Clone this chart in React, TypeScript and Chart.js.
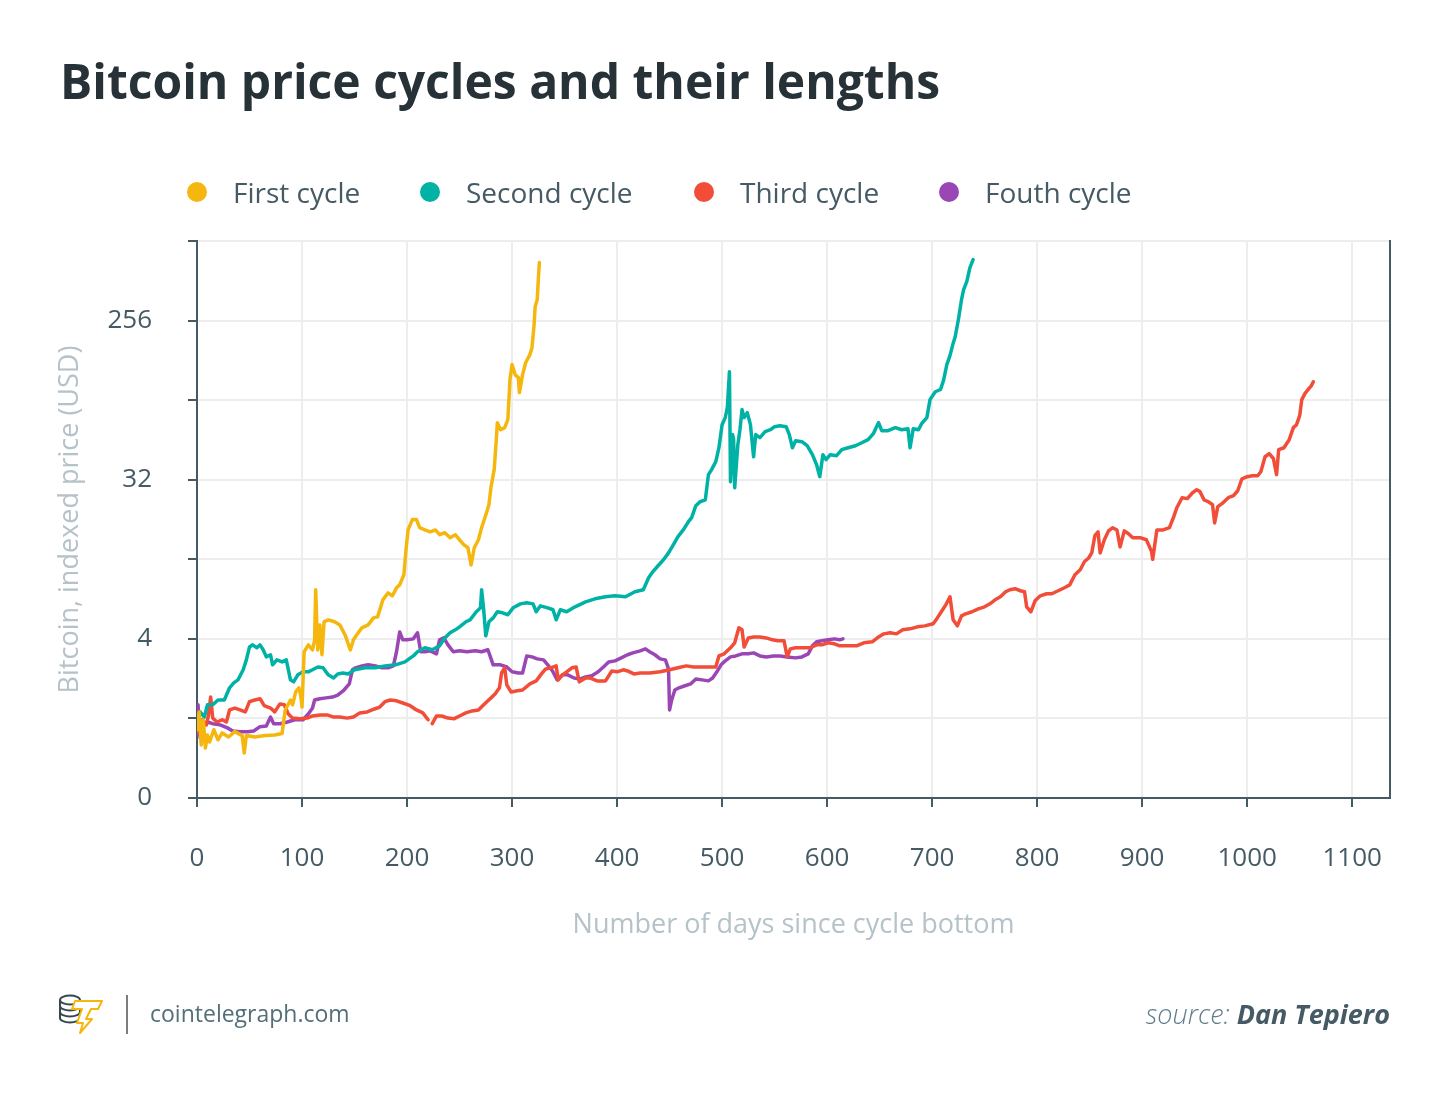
import React, { useEffect, useRef } from "react";
import { Chart, registerables } from "chart.js";

Chart.register(...registerables);

const FONT = "'Open Sans', 'Noto Sans', sans-serif";

const titleText = "Bitcoin price cycles and their lengths";
const seriesNames = ["First cycle", "Second cycle", "Third cycle", "Fouth cycle"];
const seriesColors = ["#f5b70e", "#00b2a5", "#f14d38", "#9b46b5"];
const xAxisTitle = "Number of days since cycle bottom";
const yAxisTitle = "Bitcoin, indexed price (USD)";
const sourceLabel = "source:";
const sourceName = "Dan Tepiero";
const siteName = "cointelegraph.com";

const xTickValues = [0, 100, 200, 300, 400, 500, 600, 700, 800, 900, 1000, 1100];
const xTickLabels = ["0", "100", "200", "300", "400", "500", "600", "700", "800", "900", "1000", "1100"];
const xMax = 1136;
const yTickValues = [0.5, 1.414, 4, 11.31, 32, 90.51, 256, 724.1];
const yTickLabels = ["0", "", "4", "", "32", "", "256", ""];

const firstDays = [0,2,4,6,8,10,12,16,20,24,30,36,43,45,47,55,65,74,81,84,89,91,94,97,99,100,102,106,110,112,113,115,117,119,121,125,131,136,141,146,149,152,157,163,168,172,177,182,186,190,193,197,199,201,205,209,212,217,222,227,231,236,241,246,250,254,258,261,264,268,271,275,278,280,283,285,286,289,293,296,298,300,303,306,307,310,313,317,319,321,322,324,325,326];
const firstValues = [1.22,1.54,1.0,1.39,0.96,1.14,1.04,1.22,1.07,1.17,1.11,1.19,1.13,0.9,1.13,1.11,1.13,1.14,1.16,1.58,1.8,1.69,2.0,2.11,1.87,1.64,3.37,3.7,3.46,3.95,7.6,3.46,4.8,3.25,5.0,5.13,5.0,4.8,4.21,3.46,3.95,4.21,4.62,4.8,5.26,5.33,6.66,7.3,7.02,7.79,8.1,9.24,12.8,16.6,19.0,19.0,17.1,16.6,16.2,16.6,15.6,16.0,15.0,15.6,14.6,13.7,13.15,10.5,13.15,14.6,17.1,20.2,23.1,29.2,36.5,54,67.4,61.5,63.2,70.1,118,144,126,121.5,99.9,126,148,164,180,243,307,337,438,546];

const secondDays = [0,3,7,10,15,20,26,31,35,39,44,47,50,53,57,60,63,66,70,72,76,81,85,89,92,96,101,106,110,115,120,125,130,134,139,144,150,160,170,179,189,198,206,210,217,224,231,236,241,246,250,256,260,266,270,271,273,275,278,282,286,291,296,301,308,314,320,323,327,334,339,342,346,352,360,370,379,389,398,408,417,425,430,434,439,444,449,453,458,463,468,471,475,479,484,487,490,494,497,500,503,505,507,508,510,511,512,515,517,519,521,524,527,530,532,536,541,546,550,555,561,564,567,570,576,581,586,590,593,596,599,603,609,614,620,627,633,639,644,649,652,658,665,671,677,679,682,687,690,695,698,703,708,711,714,717,720,722,725,728,730,733,736,739];
const secondValues = [1.3,1.54,1.44,1.69,1.69,1.8,1.8,2.11,2.25,2.34,2.67,3.04,3.6,3.7,3.56,3.7,3.47,3.16,3.25,2.85,3.04,2.96,3.04,2.34,2.28,2.5,2.6,2.6,2.67,2.77,2.74,2.5,2.4,2.53,2.56,2.53,2.67,2.74,2.74,2.81,2.85,2.96,3.2,3.38,3.56,3.47,3.65,4.05,4.33,4.5,4.68,5.0,5.13,5.7,6.0,7.6,5.85,4.16,5.0,5.26,5.7,5.62,5.48,6.0,6.32,6.41,6.32,5.7,6.16,6.0,5.85,5.13,5.85,5.7,6.08,6.49,6.75,6.93,7.02,6.93,7.4,7.6,8.88,9.61,10.4,11.2,12.3,13.5,15.2,16.6,18.5,19.5,22.8,24.0,24.6,34.2,36.5,40.5,48.6,65.7,72,82,131,31.2,57.7,54,28.8,50.6,61.5,80,72,76.9,65.7,43.2,57.7,55.4,60,61.5,64,64.8,64,57.7,48.6,53.3,52.6,49.9,44.4,38.9,33.3,44.4,41.6,44.4,43.8,47.4,48.6,49.9,51.9,54,58.4,67.5,60.7,60.7,63.2,61.5,62.3,48.6,62.3,61.5,66.6,72,91.1,101,104,118,144,162,190,208,259,337,384,426,512,568];

const thirdDays = [0,2,5,9,11,13,15,19,24,28,31,36,41,46,50,55,60,64,70,74,79,83,87,91,98,105,110,117,124,130,136,143,149,155,162,169,174,179,184,190,196,203,209,215,220,222,224,228,233,239,245,250,256,262,268,272,276,280,284,288,290,293,295,299,305,310,317,323,328,332,337,342,344,348,352,357,361,364,370,374,381,389,395,400,406,410,416,422,431,441,450,458,466,473,481,489,494,497,502,508,512,516,519,521,525,530,536,542,548,553,559,562,565,570,577,584,590,595,601,607,612,620,628,635,643,649,654,660,666,672,679,686,693,701,705,710,713,717,720,724,728,732,738,744,750,755,760,765,770,774,779,784,788,790,794,798,803,809,814,820,826,831,836,841,845,849,852,855,858,860,864,868,872,876,879,883,887,891,898,904,909,910,914,920,926,930,933,938,943,948,952,955,959,963,967,969,972,976,982,987,991,995,1000,1005,1010,1013,1017,1021,1025,1028,1030,1035,1040,1044,1047,1050,1052,1055,1058,1061,1063];
const thirdValues = [1.3,1.17,1.39,1.3,1.48,1.87,1.42,1.35,1.39,1.35,1.58,1.62,1.58,1.54,1.76,1.8,1.83,1.67,1.62,1.54,1.71,1.69,1.5,1.42,1.41,1.42,1.46,1.48,1.48,1.44,1.44,1.42,1.44,1.52,1.54,1.6,1.64,1.76,1.8,1.78,1.73,1.67,1.58,1.52,1.39,null,1.32,1.46,1.46,1.42,1.41,1.46,1.52,1.56,1.58,1.67,1.76,1.85,1.95,2.11,2.56,2.74,2.19,2.0,2.03,2.05,2.22,2.31,2.53,2.7,2.74,2.81,2.34,2.5,2.6,2.74,2.77,2.28,2.4,2.4,2.31,2.31,2.63,2.6,2.67,2.63,2.53,2.56,2.56,2.6,2.67,2.74,2.81,2.77,2.77,2.77,2.77,3.2,3.29,3.56,3.8,4.62,4.5,3.6,4.05,4.1,4.1,4.05,3.95,3.9,3.9,3.16,3.51,3.56,3.56,3.56,3.7,3.7,3.8,3.75,3.65,3.65,3.65,3.8,3.85,4.1,4.27,4.33,4.27,4.5,4.56,4.68,4.74,4.87,5.26,5.85,6.24,6.93,5.13,4.74,5.4,5.55,5.7,5.92,6.08,6.32,6.66,6.93,7.4,7.6,7.7,7.5,7.4,6.08,5.7,6.58,7.02,7.21,7.21,7.5,7.8,8.1,9.24,9.86,10.95,11.5,12.3,15.4,16.2,12.3,14.6,16.4,17.1,16.6,13.3,16.4,15.8,15.0,15.0,14.6,12.5,11.3,16.6,16.6,17.1,19.7,22.2,25.3,25.0,27.0,28.1,27.4,24.6,24.0,23.1,18.2,22.5,23.4,25.3,26.0,27.7,32.4,33.3,33.7,33.7,35.5,43.2,45.0,42.1,34.2,47.4,48.6,54.0,63.2,65.7,73.9,91.1,98.6,104,109,115];

const fourthDays = [0,1,3,6,10,15,22,29,34,41,48,54,60,66,70,73,79,86,93,101,106,110,112,117,123,129,134,140,145,148,151,157,163,170,176,182,187,190,193,196,200,206,210,213,217,222,228,231,235,239,244,250,257,265,271,277,282,289,295,300,306,310,314,319,324,330,334,339,343,348,353,359,365,370,376,382,387,392,398,404,410,415,422,427,431,436,441,446,449,450,452,455,459,464,470,475,481,487,491,495,499,503,508,513,519,525,530,536,542,549,555,562,570,576,582,586,590,595,601,607,612,615];
const fourthValues = [1.14,1.69,1.1,1.28,1.35,1.32,1.3,1.25,1.2,1.19,1.19,1.2,1.27,1.28,1.44,1.32,1.32,1.35,1.39,1.39,1.5,1.62,1.8,1.83,1.85,1.87,1.92,2.05,2.22,2.67,2.74,2.81,2.85,2.81,2.74,2.74,2.81,3.38,4.38,3.95,3.95,4.0,4.33,3.38,3.38,3.42,3.29,3.95,4.05,3.7,3.38,3.42,3.38,3.42,3.38,3.47,2.85,2.85,2.77,2.6,2.56,2.56,3.2,3.16,3.08,3.04,2.85,2.6,2.34,2.5,2.5,2.4,2.37,2.43,2.47,2.6,2.77,2.96,3.0,3.12,3.25,3.33,3.42,3.51,3.38,3.25,3.08,3.04,2.7,1.58,1.8,2.05,2.11,2.16,2.22,2.37,2.34,2.31,2.4,2.6,2.85,3.0,3.16,3.2,3.29,3.29,3.33,3.2,3.16,3.2,3.2,3.16,3.12,3.16,3.29,3.65,3.85,3.9,3.95,4.0,3.95,4.0];

const seriesDays = [firstDays, secondDays, thirdDays, fourthDays];
const seriesValues = [firstValues, secondValues, thirdValues, fourthValues];

const AXIS = "#455a64";
const GRID = "#ededed";
const AXIS_TITLE = "#b5c2c8";

Chart.defaults.font.family = FONT;

export default function App() {
  const ref = useRef<HTMLCanvasElement>(null);

  useEffect(() => {
    if (!ref.current) return;
    const datasets = seriesNames.map((name, i) => ({
      label: name,
      data: seriesDays[i].map((d, j) => ({ x: d, y: seriesValues[i][j] })),
      borderColor: seriesColors[i],
      backgroundColor: seriesColors[i],
      borderWidth: 3.5,
      pointRadius: 0,
      pointHoverRadius: 0,
      fill: false,
      tension: 0,
      spanGaps: false,
      borderJoinStyle: "round" as const,
      borderCapStyle: "round" as const,
    }));
    const chart = new Chart(ref.current, {
      type: "line",
      data: { datasets },
      options: {
        responsive: false,
        animation: false,
        layout: { padding: { top: 241, left: 0, right: 0, bottom: 0 } },
        plugins: { legend: { display: false }, tooltip: { enabled: false } },
        scales: {
          x: {
            type: "linear",
            min: 0,
            max: xMax,
            afterBuildTicks: (s: any) => {
              s.ticks = xTickValues.map((v) => ({ value: v }));
            },
            afterFit: (s: any) => {
              s.height = 297;
            },
            grid: { color: GRID, lineWidth: 2, tickLength: 9, tickColor: AXIS, tickWidth: 2 },
            border: { color: AXIS, width: 2 },
            ticks: {
              color: AXIS,
              font: { family: FONT, size: 26 },
              padding: 36,
              maxRotation: 0,
              autoSkip: false,
              callback: (_v: any, i: number) => xTickLabels[i] ?? "",
            },
            title: {
              display: true,
              text: xAxisTitle,
              color: AXIS_TITLE,
              font: { family: FONT, size: 27 },
              padding: { top: 0, bottom: 153 },
            },
          },
          y: {
            type: "logarithmic",
            position: "left",
            min: yTickValues[0],
            max: yTickValues[yTickValues.length - 1],
            afterBuildTicks: (s: any) => {
              s.ticks = yTickValues.map((v) => ({ value: v }));
            },
            afterFit: (s: any) => {
              s.width = 197;
            },
            grid: { color: GRID, lineWidth: 2, tickLength: 9, tickColor: AXIS, tickWidth: 2 },
            border: { color: AXIS, width: 2 },
            ticks: {
              color: AXIS,
              font: { family: FONT, size: 26 },
              padding: 36,
              autoSkip: false,
              callback: (_v: any, i: number) => yTickLabels[i] ?? "",
            },
            title: {
              display: true,
              text: yAxisTitle,
              color: AXIS_TITLE,
              font: { family: FONT, size: 27 },
              padding: { top: 54, bottom: 0 },
            },
          },
          y2: {
            type: "linear",
            position: "right",
            afterFit: (s: any) => {
              s.width = 60;
            },
            grid: { drawOnChartArea: false, drawTicks: false },
            border: { color: AXIS, width: 2 },
            ticks: { display: false },
          },
        },
      } as any,
    });
    return () => chart.destroy();
  }, []);

  const legendLeft = [197, 430, 704, 949];

  return (
    <div
      style={{
        position: "absolute",
        left: 0,
        top: 0,
        width: 1450,
        height: 1095,
        background: "#ffffff",
        overflow: "hidden",
        fontFamily: FONT,
      }}
    >
      <canvas ref={ref} width={1450} height={1095} style={{ position: "absolute", left: 0, top: 0 }} />
      <div
        style={{
          position: "absolute",
          left: 60,
          top: 48,
          fontSize: 48,
          fontWeight: 700,
          color: "#263238",
          whiteSpace: "nowrap",
        }}
      >
        {titleText}
      </div>
      {seriesNames.map((name, i) => (
        <div key={name}>
          <div
            style={{
              position: "absolute",
              left: legendLeft[i] - 10,
              top: 182,
              width: 20,
              height: 20,
              borderRadius: "50%",
              background: seriesColors[i],
            }}
          />
          <div
            style={{
              position: "absolute",
              left: legendLeft[i] + 36,
              top: 173,
              fontSize: 28,
              color: AXIS,
              whiteSpace: "nowrap",
            }}
          >
            {name}
          </div>
        </div>
      ))}
      <svg style={{ position: "absolute", left: 56, top: 992 }} width={50} height={45} viewBox="0 0 50 45">
        <g fill="none" stroke="#37474f" strokeWidth={2}>
          <ellipse cx={14} cy={8} rx={10} ry={4.5} />
          <path d="M4 8 v6 a10 4.5 0 0 0 20 0 v-6" />
          <path d="M4 14 v6 a10 4.5 0 0 0 20 0 v-6" />
          <path d="M4 20 v6 a10 4.5 0 0 0 20 0 v-6" />
        </g>
        <polygon
          points="19,9 46,9 42,17 35,17 30,27 36,27 24,41 27,31 21,31 26,17 16,17"
          fill="#ffffff"
          stroke="#f5b70e"
          strokeWidth={2}
          strokeLinejoin="round"
        />
      </svg>
      <div style={{ position: "absolute", left: 126, top: 995, width: 2, height: 39, background: "#7d7d7d" }} />
      <div
        style={{
          position: "absolute",
          left: 150,
          top: 997,
          fontSize: 23,
          color: "#546e7a",
          whiteSpace: "nowrap",
        }}
      >
        {siteName}
      </div>
      <div
        style={{
          position: "absolute",
          right: 60,
          top: 995,
          fontSize: 27,
          fontStyle: "italic",
          color: AXIS,
          whiteSpace: "nowrap",
        }}
      >
        <span style={{ fontWeight: 300, color: "#607d8b" }}>{sourceLabel} </span>
        <span style={{ fontWeight: 700 }}>{sourceName}</span>
      </div>
    </div>
  );
}
